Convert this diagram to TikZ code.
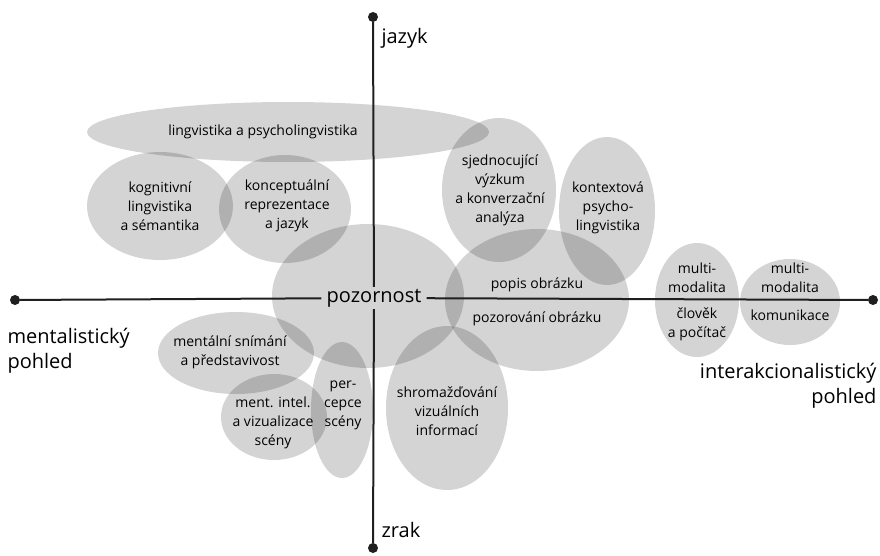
\documentclass[tikz,border=0pt]{standalone}
\usepackage{fontspec}
\setmainfont{Open Sans}
\tikzset{
    bubble/.style={fill=black, fill opacity=0.17},
    lbl/.style={align=center, inner sep=0pt, font=\fontsize{14}{19}\selectfont},
    big/.style={font=\fontsize{20}{25}\selectfont},
    axis/.style={line width=2pt, black!88},
    dot/.style={circle, fill=black!88, inner sep=0pt, minimum size=10pt}
}
\begin{document}
\begin{tikzpicture}[x=1pt, y=-1pt]
    \useasboundingbox (0,0) rectangle (880,555);

    % Bubbles (upper half)
    \fill[bubble] (288,132) ellipse [x radius=201, y radius=30];
    \fill[bubble] (160,206) ellipse [x radius=73, y radius=54];
    \fill[bubble] (285,209) ellipse [x radius=66, y radius=54];
    \fill[bubble] (499,190) ellipse [x radius=57, y radius=72];
    \fill[bubble] (607,211) ellipse [x radius=48, y radius=74];
    % Bubbles (middle)
    \fill[bubble] (368,296) ellipse [x radius=96, y radius=72];
    \fill[bubble] (537,300) ellipse [x radius=92, y radius=71];
    \fill[bubble] (697,300) ellipse [x radius=42, y radius=57];
    \fill[bubble] (790,302) ellipse [x radius=50, y radius=43];
    % Bubbles (lower half)
    \fill[bubble] (236,353) ellipse [x radius=78, y radius=41];
    \fill[bubble] (274,417) ellipse [x radius=53, y radius=43];
    \fill[bubble] (342,410) ellipse [x radius=31, y radius=68];
    \fill[bubble] (447,408) ellipse [x radius=61, y radius=82];

    % Axes
    \node[dot] (top) at (373,17) {};
    \node[dot] (bot) at (373,548) {};
    \node[dot] (lft) at (15,300) {};
    \node[dot] (rgt) at (873,300) {};
    \node[big, inner xsep=5pt, inner ysep=2pt] (poz) at (374,298) {pozornost};
    \draw[axis] (top) -- (poz) -- (bot);
    \draw[axis] (lft) -- (poz) -- (rgt);

    % Axis labels
    \node[big, anchor=west] (jazyk) at (378,38) {jazyk};
    \node[big, anchor=west] (zrak) at (378,530) {zrak};
    \node[big, anchor=north west, align=left] (ment) at (4,325) {mentalistický\\pohled};
    \node[big, anchor=north east, align=right] (inter) at (880,360) {interakcionalistický\\pohled};

    % Bubble labels
    \node[lbl] (lingv) at (263,132) {lingvistika a psycholingvistika};
    \node[lbl] (kogn) at (160,206) {kognitivní\\lingvistika\\a sémantika};
    \node[lbl] (konc) at (287,206) {konceptuální\\reprezentace\\a jazyk};
    \node[lbl] (sjed) at (500,190) {sjednocující\\výzkum\\a konverzační\\analýza};
    \node[lbl] (kont) at (608,208) {kontextová\\psycho-\\lingvistika};
    \node[lbl] (popis) at (537,285) {popis obrázku};
    \node[lbl] (pozor) at (537,319) {pozorování obrázku};
    \node[lbl] (mm1) at (697,278) {multi-\\modalita};
    \node[lbl] (clov) at (697,324) {člověk\\a počítač};
    \node[lbl] (mm2) at (790,278) {multi-\\modalita};
    \node[lbl] (komu) at (790,315) {komunikace};
    \node[lbl] (snim) at (230,352) {mentální snímání\\a představivost};
    \node[lbl] (intel) at (273,423) {ment. intel.\\a vizualizace\\scény};
    \node[lbl] (perc) at (343,405) {per-\\cepce\\scény};
    \node[lbl] (shrom) at (447,411) {shromažďování\\vizuálních\\informací};
\end{tikzpicture}
\end{document}
